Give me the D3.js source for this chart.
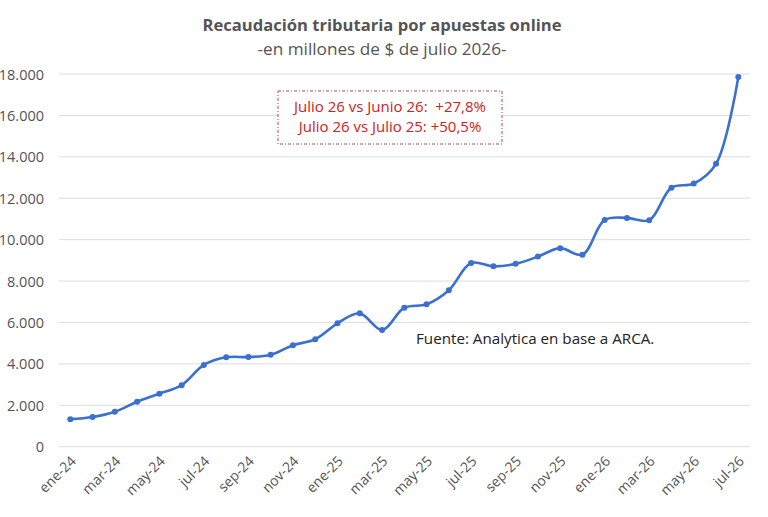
<!DOCTYPE html>
<html><head><meta charset="utf-8">
<script src="https://cdn.jsdelivr.net/npm/d3@7"></script>
<style>
body{margin:0;background:#fff;}
svg{display:block;font-family:"Open Sans",sans-serif;}
</style></head>
<body><svg id="c" width="768" height="517"></svg>
<script>
const months = ["ene-24","feb-24","mar-24","abr-24","may-24","jun-24","jul-24","ago-24","sep-24","oct-24","nov-24","dic-24",
"ene-25","feb-25","mar-25","abr-25","may-25","jun-25","jul-25","ago-25","sep-25","oct-25","nov-25","dic-25",
"ene-26","feb-26","mar-26","abr-26","may-26","jun-26","jul-26"];
const values = [1330,1435,1690,2170,2560,2970,3950,4320,4330,4440,4900,5190,
5960,6440,5640,6710,6880,7560,8870,8710,8830,9180,9590,9270,
10950,11050,10940,12510,12710,13660,17850];
const yTicks = [0,2000,4000,6000,8000,10000,12000,14000,16000,18000];
const title = "Recaudación tributaria por apuestas online";
const subtitle = "-en millones de $ de julio 2026-";
const noteLines = ["Julio 26 vs Junio 26:  +27,8%","Julio 26 vs Julio 25: +50,5%"];
const source = "Fuente: Analytica en base a ARCA.";

const svg = d3.select("#c");
const x = d3.scalePoint().domain(months).range([70.3, 738.3]);
const y = d3.scaleLinear().domain([0,18000]).range([446.7, 74]);
const fmt = d3.format(",.0f");
const fmtEs = v => fmt(v).replace(/,/g,".");

// gridlines
svg.append("g").selectAll("line").data(yTicks).join("line")
  .attr("x1",59).attr("x2",750)
  .attr("y1",d=>y(d)).attr("y2",d=>y(d))
  .attr("stroke","#dcdcdc").attr("stroke-width",1);

// y axis labels
const yAxis = d3.axisLeft(y).tickValues(yTicks).tickFormat(fmtEs).tickSize(0).tickPadding(0);
const gy = svg.append("g").attr("transform","translate(44,0)").call(yAxis);
gy.select(".domain").remove();
gy.selectAll("text").attr("font-size",14.5).attr("fill","#555").attr("font-family","'Open Sans',sans-serif").attr("dy","0.35em");

// x axis labels
const xLabels = months.filter((d,i)=>i%2===0);
const xAxis = d3.axisBottom(x).tickValues(xLabels).tickSize(0).tickPadding(0);
const gx = svg.append("g").attr("transform","translate(0,455)").call(xAxis);
gx.select(".domain").remove();
gx.selectAll("text").attr("font-size",14).attr("fill","#555").attr("font-family","'Open Sans',sans-serif")
  .attr("text-anchor","end").attr("dy",null).attr("y",0)
  .attr("transform","translate(6,7) rotate(-45)");

// line
const line = d3.line().x((d,i)=>x(months[i])).y(d=>y(d)).curve(d3.curveCatmullRom.alpha(0.5));
svg.append("path").datum(values).attr("d",line).attr("fill","none")
  .attr("stroke","#3b6fd0").attr("stroke-width",2.6).attr("stroke-linejoin","round");
svg.append("g").selectAll("circle").data(values).join("circle")
  .attr("cx",(d,i)=>x(months[i])).attr("cy",d=>y(d)).attr("r",3).attr("fill","#3b6fd0");

// title
svg.append("text").attr("x",382).attr("y",31).attr("text-anchor","middle")
  .attr("font-size",16.6).attr("font-weight","bold").attr("fill","#555").text(title);
svg.append("text").attr("x",382).attr("y",55).attr("text-anchor","middle")
  .attr("font-size",17.2).attr("fill","#555").text(subtitle);

// annotation box
svg.append("rect").attr("x",278).attr("y",91).attr("width",224).attr("height",53)
  .attr("fill","#fff").attr("stroke","#b54848").attr("stroke-width",1)
  .attr("stroke-dasharray","3,2,1,2");
svg.append("g").selectAll("text").data(noteLines).join("text")
  .attr("x",390).attr("y",(d,i)=>111.5+i*20).attr("text-anchor","middle")
  .attr("font-size",15).attr("fill","#d32020").attr("xml:space","preserve")
  .style("white-space","pre").text(d=>d);

// source
svg.append("text").attr("x",416).attr("y",344).attr("font-size",15.2).attr("fill","#222").text(source);
</script></body></html>
